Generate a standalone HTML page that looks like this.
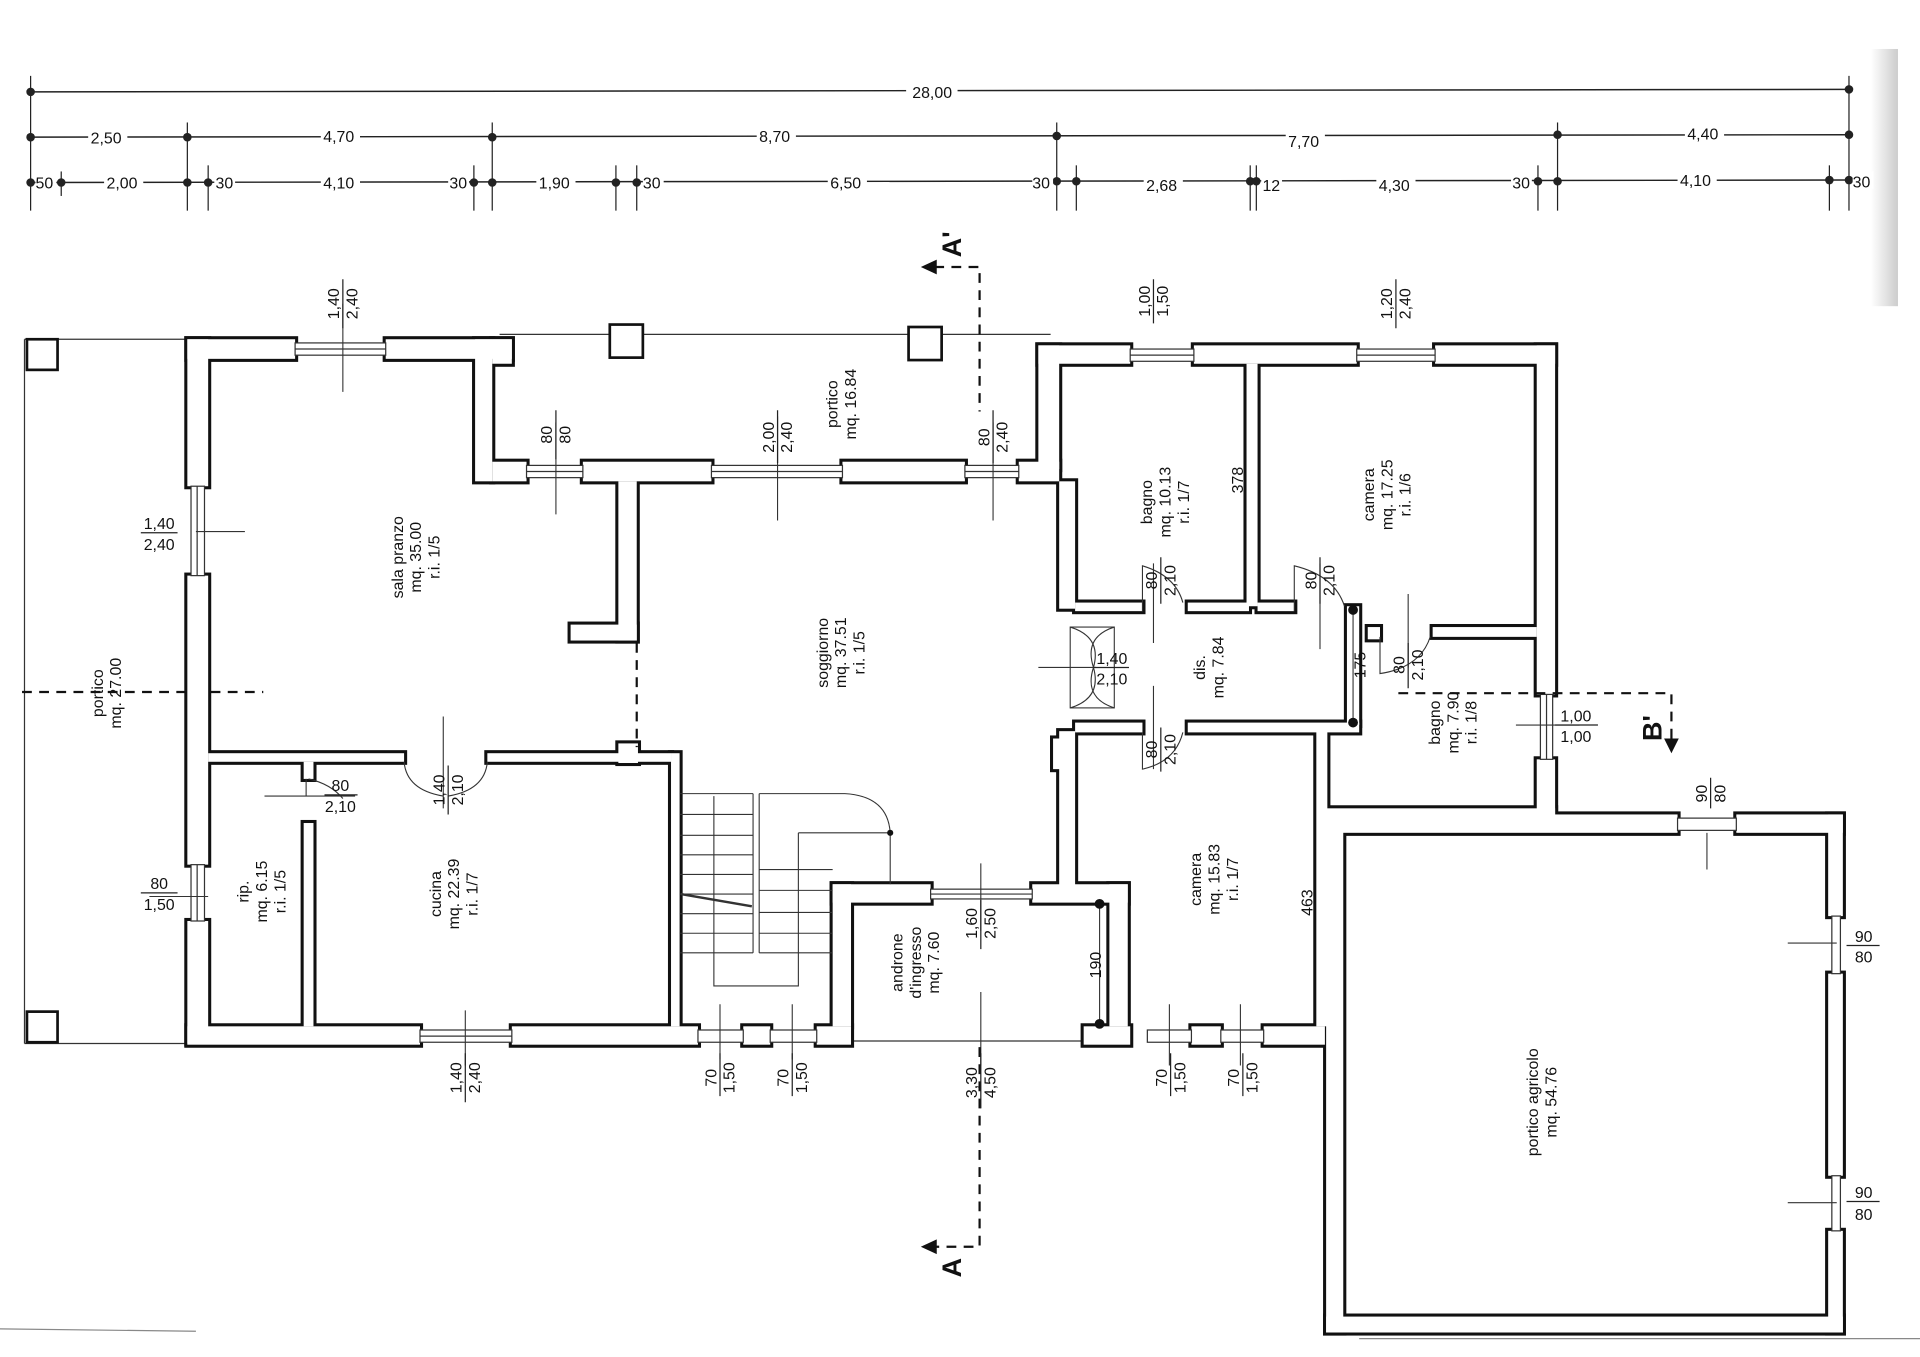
<!DOCTYPE html>
<html><head><meta charset="utf-8"><style>
html,body{margin:0;padding:0;background:#fff;}
svg{display:block;}
text{font-family:"Liberation Sans",sans-serif;fill:#111;}
</style></head><body>
<svg width="1920" height="1357" viewBox="0 0 1568 1108" preserveAspectRatio="none" xmlns="http://www.w3.org/2000/svg">
<defs>
<g id="walls">
<rect x="153" y="277" width="88" height="16"/><rect x="315" y="277" width="103" height="16"/>
<rect x="153" y="277" width="17" height="120"/><rect x="153" y="470" width="17" height="236"/><rect x="153" y="752" width="17" height="100"/>
<rect x="388" y="277" width="14" height="116"/><rect x="402" y="277" width="16" height="20"/>
<rect x="402" y="377" width="28" height="16"/><rect x="476" y="377" width="105" height="16"/><rect x="688" y="377" width="100" height="16"/><rect x="832" y="377" width="33" height="16"/>
<rect x="848" y="282" width="17" height="101"/>
<rect x="505" y="393" width="15" height="130"/><rect x="466" y="510" width="54" height="13"/>
<rect x="865" y="393" width="13" height="104"/>
<rect x="865" y="597" width="13" height="130"/><rect x="860" y="603" width="6" height="25"/>
<rect x="170" y="615" width="160" height="7"/><rect x="398" y="615" width="150" height="7"/>
<rect x="505" y="607" width="16" height="16"/>
<rect x="548" y="615" width="7" height="223"/>
<rect x="248" y="622" width="8" height="14"/><rect x="248" y="672" width="8" height="166"/>
<rect x="153" y="838" width="190" height="15"/><rect x="418" y="838" width="152" height="15"/><rect x="607" y="838" width="22" height="15"/><rect x="667" y="838" width="28" height="15"/>
<rect x="885" y="838" width="38" height="15"/><rect x="973" y="838" width="24" height="15"/><rect x="1032" y="838" width="50" height="15"/>
<rect x="680" y="722" width="80" height="15"/><rect x="843" y="722" width="78" height="15"/>
<rect x="680" y="722" width="15" height="116"/><rect x="906" y="722" width="15" height="116"/>
<rect x="848" y="282" width="75" height="15"/><rect x="975" y="282" width="133" height="15"/><rect x="1172" y="282" width="98" height="15"/>
<rect x="1255" y="282" width="15" height="285"/><rect x="1255" y="620" width="15" height="48"/>
<rect x="1018" y="297" width="9" height="198"/>
<rect x="878" y="492" width="55" height="7"/><rect x="970" y="492" width="50" height="7"/><rect x="1027" y="492" width="30" height="7"/>
<rect x="1170" y="512" width="85" height="8"/><rect x="1117" y="512" width="10" height="10"/>
<rect x="1100" y="495" width="10" height="97"/>
<rect x="878" y="590" width="55" height="8"/><rect x="970" y="590" width="140" height="8"/>
<rect x="1075" y="597" width="9" height="241"/>
<rect x="1082" y="660" width="188" height="7"/>
<rect x="1083" y="665" width="287" height="15"/><rect x="1418" y="665" width="87" height="15"/>
<rect x="1493" y="665" width="12" height="83"/><rect x="1493" y="795" width="12" height="165"/><rect x="1493" y="1005" width="12" height="83"/>
<rect x="1083" y="1075" width="422" height="13"/><rect x="1083" y="665" width="14" height="423"/>
</g>
<linearGradient id="sh" x1="0" x2="1"><stop offset="0" stop-color="#fff"/><stop offset="1" stop-color="#ccc"/></linearGradient>
</defs>
<rect width="1568" height="1108" fill="#fff"/>
<rect x="1528" y="40" width="22" height="210" fill="url(#sh)"/>
<line x1="0" y1="1085" x2="160" y2="1087" stroke="#888" stroke-width="1"/>
<line x1="1110" y1="1093" x2="1568" y2="1093" stroke="#888" stroke-width="1"/>

<g stroke="#222" stroke-width="1.2" fill="none">
<line x1="25" y1="75" x2="1510" y2="73"/>
<line x1="25" y1="112" x2="1510" y2="110"/>
<line x1="25" y1="149" x2="1510" y2="147"/>
<g stroke-width="1">
<line x1="25" y1="62" x2="25" y2="172"/><line x1="50" y1="140" x2="50" y2="160"/>
<line x1="153" y1="100" x2="153" y2="172"/><line x1="170" y1="135" x2="170" y2="172"/>
<line x1="387" y1="135" x2="387" y2="172"/><line x1="402" y1="100" x2="402" y2="172"/>
<line x1="503" y1="135" x2="503" y2="172"/><line x1="520" y1="135" x2="520" y2="172"/>
<line x1="863" y1="100" x2="863" y2="172"/><line x1="879" y1="135" x2="879" y2="172"/>
<line x1="1021" y1="135" x2="1021" y2="172"/><line x1="1026" y1="135" x2="1026" y2="172"/>
<line x1="1256" y1="135" x2="1256" y2="172"/><line x1="1272" y1="100" x2="1272" y2="172"/>
<line x1="1494" y1="135" x2="1494" y2="172"/><line x1="1510" y1="62" x2="1510" y2="172"/>
</g></g>
<g fill="#222">
<circle cx="25" cy="75" r="3.5"/><circle cx="1510" cy="73" r="3.5"/>
<circle cx="25" cy="112" r="3.5"/><circle cx="153" cy="112" r="3.5"/><circle cx="402" cy="112" r="3.5"/><circle cx="863" cy="111" r="3.5"/><circle cx="1272" cy="110" r="3.5"/><circle cx="1510" cy="110" r="3.5"/>
<circle cx="25" cy="149" r="3.5"/><circle cx="50" cy="149" r="3.5"/><circle cx="153" cy="149" r="3.5"/><circle cx="170" cy="149" r="3.5"/><circle cx="387" cy="149" r="3.5"/><circle cx="402" cy="149" r="3.5"/><circle cx="503" cy="149" r="3.5"/><circle cx="520" cy="149" r="3.5"/><circle cx="863" cy="148" r="3.5"/><circle cx="879" cy="148" r="3.5"/><circle cx="1021" cy="148" r="3.5"/><circle cx="1026" cy="148" r="3.5"/><circle cx="1256" cy="148" r="3.5"/><circle cx="1272" cy="148" r="3.5"/><circle cx="1494" cy="147" r="3.5"/><circle cx="1510" cy="147" r="3.5"/>
</g>
<g font-size="13">
<rect x="740" y="68" width="42" height="14" fill="#fff"/><text x="745" y="80">28,00</text>
<rect x="72" y="105" width="32" height="14" fill="#fff"/><text x="74" y="117">2,50</text>
<rect x="262" y="105" width="32" height="14" fill="#fff"/><text x="264" y="116">4,70</text>
<rect x="618" y="105" width="32" height="14" fill="#fff"/><text x="620" y="116">8,70</text>
<rect x="1050" y="105" width="32" height="14" fill="#fff"/><text x="1052" y="120">7,70</text>
<rect x="1376" y="103" width="32" height="14" fill="#fff"/><text x="1378" y="114">4,40</text>
<rect x="29" y="142" width="17" height="14" fill="#fff"/><text x="29" y="154">50</text>
<rect x="85" y="142" width="32" height="14" fill="#fff"/><text x="87" y="154">2,00</text>
<rect x="175" y="142" width="17" height="14" fill="#fff"/><text x="176" y="154">30</text>
<rect x="262" y="142" width="32" height="14" fill="#fff"/><text x="264" y="154">4,10</text>
<rect x="366" y="142" width="17" height="14" fill="#fff"/><text x="367" y="154">30</text>
<rect x="438" y="142" width="32" height="14" fill="#fff"/><text x="440" y="154">1,90</text>
<rect x="525" y="142" width="17" height="14" fill="#fff"/><text x="525" y="154">30</text>
<rect x="676" y="142" width="32" height="14" fill="#fff"/><text x="678" y="154">6,50</text>
<rect x="843" y="142" width="17" height="14" fill="#fff"/><text x="843" y="154">30</text>
<rect x="934" y="142" width="32" height="14" fill="#fff"/><text x="936" y="156">2,68</text>
<rect x="1030" y="142" width="17" height="14" fill="#fff"/><text x="1031" y="156">12</text>
<rect x="1124" y="142" width="32" height="14" fill="#fff"/><text x="1126" y="156">4,30</text>
<rect x="1234" y="142" width="17" height="14" fill="#fff"/><text x="1235" y="154">30</text>
<rect x="1370" y="140" width="32" height="14" fill="#fff"/><text x="1372" y="152">4,10</text>
<rect x="1513" y="140" width="17" height="14" fill="#fff"/><text x="1513" y="153">30</text>
</g>

<g stroke="#333" stroke-width="1" fill="none">
<line x1="20" y1="277" x2="153" y2="277"/>
<line x1="20" y1="852" x2="153" y2="852"/>
<line x1="20" y1="277" x2="20" y2="852"/>
<line x1="408" y1="273" x2="858" y2="273"/>
<line x1="695" y1="850" x2="885" y2="850"/>
</g>
<g stroke="#111" stroke-width="2.2" fill="#fff">
<rect x="22" y="277" width="25" height="25"/>
<rect x="22" y="826" width="25" height="25"/>
<rect x="498" y="265" width="27" height="27"/>
<rect x="742" y="267" width="27" height="27"/>
</g>
<line x1="18" y1="565" x2="215" y2="565" stroke="#111" stroke-width="1.8" stroke-dasharray="8,6"/>

<use href="#walls" fill="#111" stroke="#111" stroke-width="5"/>
<use href="#walls" fill="#fff" stroke="none"/>

<g stroke="#333" stroke-width="1" fill="#fff">
<rect x="241" y="280" width="74" height="10"/><line x1="241" y1="285" x2="315" y2="285"/>
<rect x="156" y="397" width="11" height="73"/><line x1="161" y1="397" x2="161" y2="470"/>
<rect x="156" y="706" width="11" height="46"/><line x1="161" y1="706" x2="161" y2="752"/>
<rect x="430" y="380" width="46" height="10"/><line x1="430" y1="385" x2="476" y2="385"/>
<rect x="581" y="380" width="107" height="10"/><line x1="581" y1="385" x2="688" y2="385"/>
<rect x="788" y="380" width="44" height="10"/><line x1="788" y1="385" x2="832" y2="385"/>
<rect x="343" y="841" width="75" height="10"/><line x1="343" y1="846" x2="418" y2="846"/>
<rect x="570" y="841" width="37" height="10"/><rect x="629" y="841" width="38" height="10"/>
<rect x="937" y="841" width="36" height="10"/><rect x="997" y="841" width="35" height="10"/>
<rect x="760" y="726" width="83" height="8"/><line x1="760" y1="730" x2="843" y2="730"/>
<rect x="923" y="285" width="52" height="10"/><line x1="923" y1="290" x2="975" y2="290"/>
<rect x="1108" y="285" width="64" height="10"/><line x1="1108" y1="290" x2="1172" y2="290"/>
<rect x="1258" y="567" width="10" height="53"/><line x1="1263" y1="567" x2="1263" y2="620"/>
<rect x="1370" y="668" width="48" height="10"/>
<rect x="1496" y="748" width="7" height="47"/><rect x="1496" y="960" width="7" height="45"/>
</g>
<g stroke="#333" stroke-width="0.9" fill="none">
<rect x="874" y="512" width="36" height="66"/>
<path d="M874 512 Q900 520 893 545 M910 512 Q885 520 893 545 M874 578 Q900 570 893 545 M910 578 Q885 570 893 545"/>
<path d="M330 622 Q332 645 362 650 M398 622 Q396 645 366 650"/>
<path d="M250 636 L250 650 M252 636 Q270 640 280 652"/>
<path d="M933 499 L933 462 Q960 470 966 492 M1057 499 L1057 462 Q1090 470 1098 495 M933 598 L933 628 Q960 622 966 598 M1127 520 L1127 550 Q1160 545 1168 520"/>
<path d="M555 648 H615 M555 665 H615 M555 682 H615 M555 698 H615 M555 714 H615 M555 730 H615 M555 746 H615 M555 762 H615 M555 778 H615 M615 648 V778"/>
<path d="M620 648 V778 M620 710 H680 M620 727 H680 M620 745 H680 M620 762 H680 M620 778 H680"/>
<path d="M620 648 H690 Q725 650 727 680 V722 M652 680 H727 M652 680 V805 H583 V650"/>
<path d="M556 730 L614 740" stroke-width="2"/>
<path d="M280 248 V320 M160 434 H200 M454 345 V420 M635 340 V425 M811 345 V425 M848 545 H895 M942 460 V525 M942 560 V628 M1078 460 V530 M1150 485 V545 M1238 592 H1290 M362 585 V660 M216 650 H290 M122 732 H170 M380 825 V870 M588 820 V865 M647 820 V865 M955 820 V870 M1013 820 V870 M801 705 V760 M801 810 V870 M1394 680 V710 M1460 770 H1500 M1460 982 H1500 M1105 497 V590 M898 737 V838"/>
</g>
<g fill="#111">
<circle cx="1105" cy="498" r="4"/><circle cx="1105" cy="590" r="4"/><circle cx="898" cy="738" r="4"/><circle cx="898" cy="836" r="4"/><circle cx="727" cy="680" r="2.5"/>
</g>
<g stroke="#111" stroke-width="1.8" fill="none" stroke-dasharray="8,6">
<line x1="520" y1="525" x2="520" y2="610"/>
<path d="M763 218 H800 V336"/>
<path d="M800 855 V1018 H763"/>
<path d="M1142 566 H1365 V605"/>
</g>
<g fill="#111">
<polygon points="752,218 765,212 765,224"/>
<polygon points="752,1018 765,1012 765,1024"/>
<polygon points="1365,615 1359,603 1371,603"/>
</g>
<g font-size="22" font-weight="bold">
<text transform="translate(785,210) rotate(-90)">A'</text>
<text transform="translate(785,1043) rotate(-90)">A</text>
<text transform="translate(1357,605) rotate(-90)">B'</text>
</g>

<g font-size="13" text-anchor="middle">
<text transform="translate(343,455) rotate(-90)"><tspan x="0" y="-14">sala pranzo</tspan><tspan x="0" y="1">mq. 35.00</tspan><tspan x="0" y="16">r.i. 1/5</tspan></text>
<text transform="translate(690,330) rotate(-90)"><tspan x="0" y="-6">portico</tspan><tspan x="0" y="9">mq. 16.84</tspan></text>
<text transform="translate(690,533) rotate(-90)"><tspan x="0" y="-14">soggiorno</tspan><tspan x="0" y="1">mq. 37.51</tspan><tspan x="0" y="16">r.i. 1/5</tspan></text>
<text transform="translate(90,566) rotate(-90)"><tspan x="0" y="-6">portico</tspan><tspan x="0" y="9">mq. 27.00</tspan></text>
<text transform="translate(217,728) rotate(-90)"><tspan x="0" y="-14">rip.</tspan><tspan x="0" y="1">mq. 6.15</tspan><tspan x="0" y="16">r.i. 1/5</tspan></text>
<text transform="translate(374,730) rotate(-90)"><tspan x="0" y="-14">cucina</tspan><tspan x="0" y="1">mq. 22.39</tspan><tspan x="0" y="16">r.i. 1/7</tspan></text>
<text transform="translate(751,786) rotate(-90)"><tspan x="0" y="-14">androne</tspan><tspan x="0" y="1">d'ingresso</tspan><tspan x="0" y="16">mq. 7.60</tspan></text>
<text transform="translate(955,410) rotate(-90)"><tspan x="0" y="-14">bagno</tspan><tspan x="0" y="1">mq. 10.13</tspan><tspan x="0" y="16">r.i. 1/7</tspan></text>
<text transform="translate(1136,404) rotate(-90)"><tspan x="0" y="-14">camera</tspan><tspan x="0" y="1">mq. 17.25</tspan><tspan x="0" y="16">r.i. 1/6</tspan></text>
<text transform="translate(990,545) rotate(-90)"><tspan x="0" y="-6">dis.</tspan><tspan x="0" y="9">mq. 7.84</tspan></text>
<text transform="translate(1190,590) rotate(-90)"><tspan x="0" y="-14">bagno</tspan><tspan x="0" y="1">mq. 7.90</tspan><tspan x="0" y="16">r.i. 1/8</tspan></text>
<text transform="translate(995,718) rotate(-90)"><tspan x="0" y="-14">camera</tspan><tspan x="0" y="1">mq. 15.83</tspan><tspan x="0" y="16">r.i. 1/7</tspan></text>
<text transform="translate(1262,900) rotate(-90)"><tspan x="0" y="-6">portico agricolo</tspan><tspan x="0" y="9">mq. 54.76</tspan></text>
<text transform="translate(1010,392) rotate(-90)" y="5">378</text>
<text transform="translate(1110,543) rotate(-90)" y="5">175</text>
<text transform="translate(1067,737) rotate(-90)" y="5">463</text>
<text transform="translate(894,788) rotate(-90)" y="5">190</text>
</g>
<g font-size="13" text-anchor="middle">
<text transform="translate(280,248) rotate(-90)"><tspan x="0" y="-3">1,40</tspan><tspan x="0" y="12">2,40</tspan></text>
<text transform="translate(454,355) rotate(-90)"><tspan x="0" y="-3">80</tspan><tspan x="0" y="12">80</tspan></text>
<text transform="translate(635,357) rotate(-90)"><tspan x="0" y="-3">2,00</tspan><tspan x="0" y="12">2,40</tspan></text>
<text transform="translate(811,357) rotate(-90)"><tspan x="0" y="-3">80</tspan><tspan x="0" y="12">2,40</tspan></text>
<text transform="translate(942,246) rotate(-90)"><tspan x="0" y="-3">1,00</tspan><tspan x="0" y="12">1,50</tspan></text>
<text transform="translate(1140,248) rotate(-90)"><tspan x="0" y="-3">1,20</tspan><tspan x="0" y="12">2,40</tspan></text>
<text transform="translate(948,474) rotate(-90)"><tspan x="0" y="-3">80</tspan><tspan x="0" y="12">2,10</tspan></text>
<text transform="translate(1078,474) rotate(-90)"><tspan x="0" y="-3">80</tspan><tspan x="0" y="12">2,10</tspan></text>
<text transform="translate(1150,543) rotate(-90)"><tspan x="0" y="-3">80</tspan><tspan x="0" y="12">2,10</tspan></text>
<text transform="translate(948,612) rotate(-90)"><tspan x="0" y="-3">80</tspan><tspan x="0" y="12">2,10</tspan></text>
<text transform="translate(366,645) rotate(-90)"><tspan x="0" y="-3">1,40</tspan><tspan x="0" y="12">2,10</tspan></text>
<text transform="translate(380,880) rotate(-90)"><tspan x="0" y="-3">1,40</tspan><tspan x="0" y="12">2,40</tspan></text>
<text transform="translate(588,880) rotate(-90)"><tspan x="0" y="-3">70</tspan><tspan x="0" y="12">1,50</tspan></text>
<text transform="translate(647,880) rotate(-90)"><tspan x="0" y="-3">70</tspan><tspan x="0" y="12">1,50</tspan></text>
<text transform="translate(801,884) rotate(-90)"><tspan x="0" y="-3">3,30</tspan><tspan x="0" y="12">4,50</tspan></text>
<text transform="translate(801,754) rotate(-90)"><tspan x="0" y="-3">1,60</tspan><tspan x="0" y="12">2,50</tspan></text>
<text transform="translate(956,880) rotate(-90)"><tspan x="0" y="-3">70</tspan><tspan x="0" y="12">1,50</tspan></text>
<text transform="translate(1015,880) rotate(-90)"><tspan x="0" y="-3">70</tspan><tspan x="0" y="12">1,50</tspan></text>
<text transform="translate(1397,648) rotate(-90)"><tspan x="0" y="-3">90</tspan><tspan x="0" y="12">80</tspan></text>
</g>
<g stroke="#222" stroke-width="1">
<path d="M280 228 V268 M454 335 V375 M635 335 V378 M811 335 V378 M942 228 V264 M1140 228 V268 M948 455 V493 M1078 455 V493 M1150 525 V562 M948 594 V630 M366 625 V665 M380 860 V900 M588 860 V895 M647 860 V895 M801 860 V905 M801 735 V775 M956 860 V895 M1015 860 V895 M1397 635 V660"/>
</g>
<g font-size="13" text-anchor="middle">
<text x="130" y="432">1,40</text><line x1="115" y1="435" x2="145" y2="435" stroke="#222"/><text x="130" y="449">2,40</text>
<text x="130" y="726">80</text><line x1="115" y1="729" x2="145" y2="729" stroke="#222"/><text x="130" y="743">1,50</text>
<text x="278" y="646">80</text><line x1="265" y1="649" x2="292" y2="649" stroke="#222"/><text x="278" y="663">2,10</text>
<text x="908" y="542">1,40</text><line x1="893" y1="545" x2="922" y2="545" stroke="#222"/><text x="908" y="559">2,10</text>
<text x="1287" y="589">1,00</text><line x1="1270" y1="592" x2="1305" y2="592" stroke="#222"/><text x="1287" y="606">1,00</text>
<text x="1522" y="769">90</text><line x1="1508" y1="772" x2="1535" y2="772" stroke="#222"/><text x="1522" y="786">80</text>
<text x="1522" y="978">90</text><line x1="1508" y1="981" x2="1535" y2="981" stroke="#222"/><text x="1522" y="996">80</text>
</g>
</svg>
</body></html>
